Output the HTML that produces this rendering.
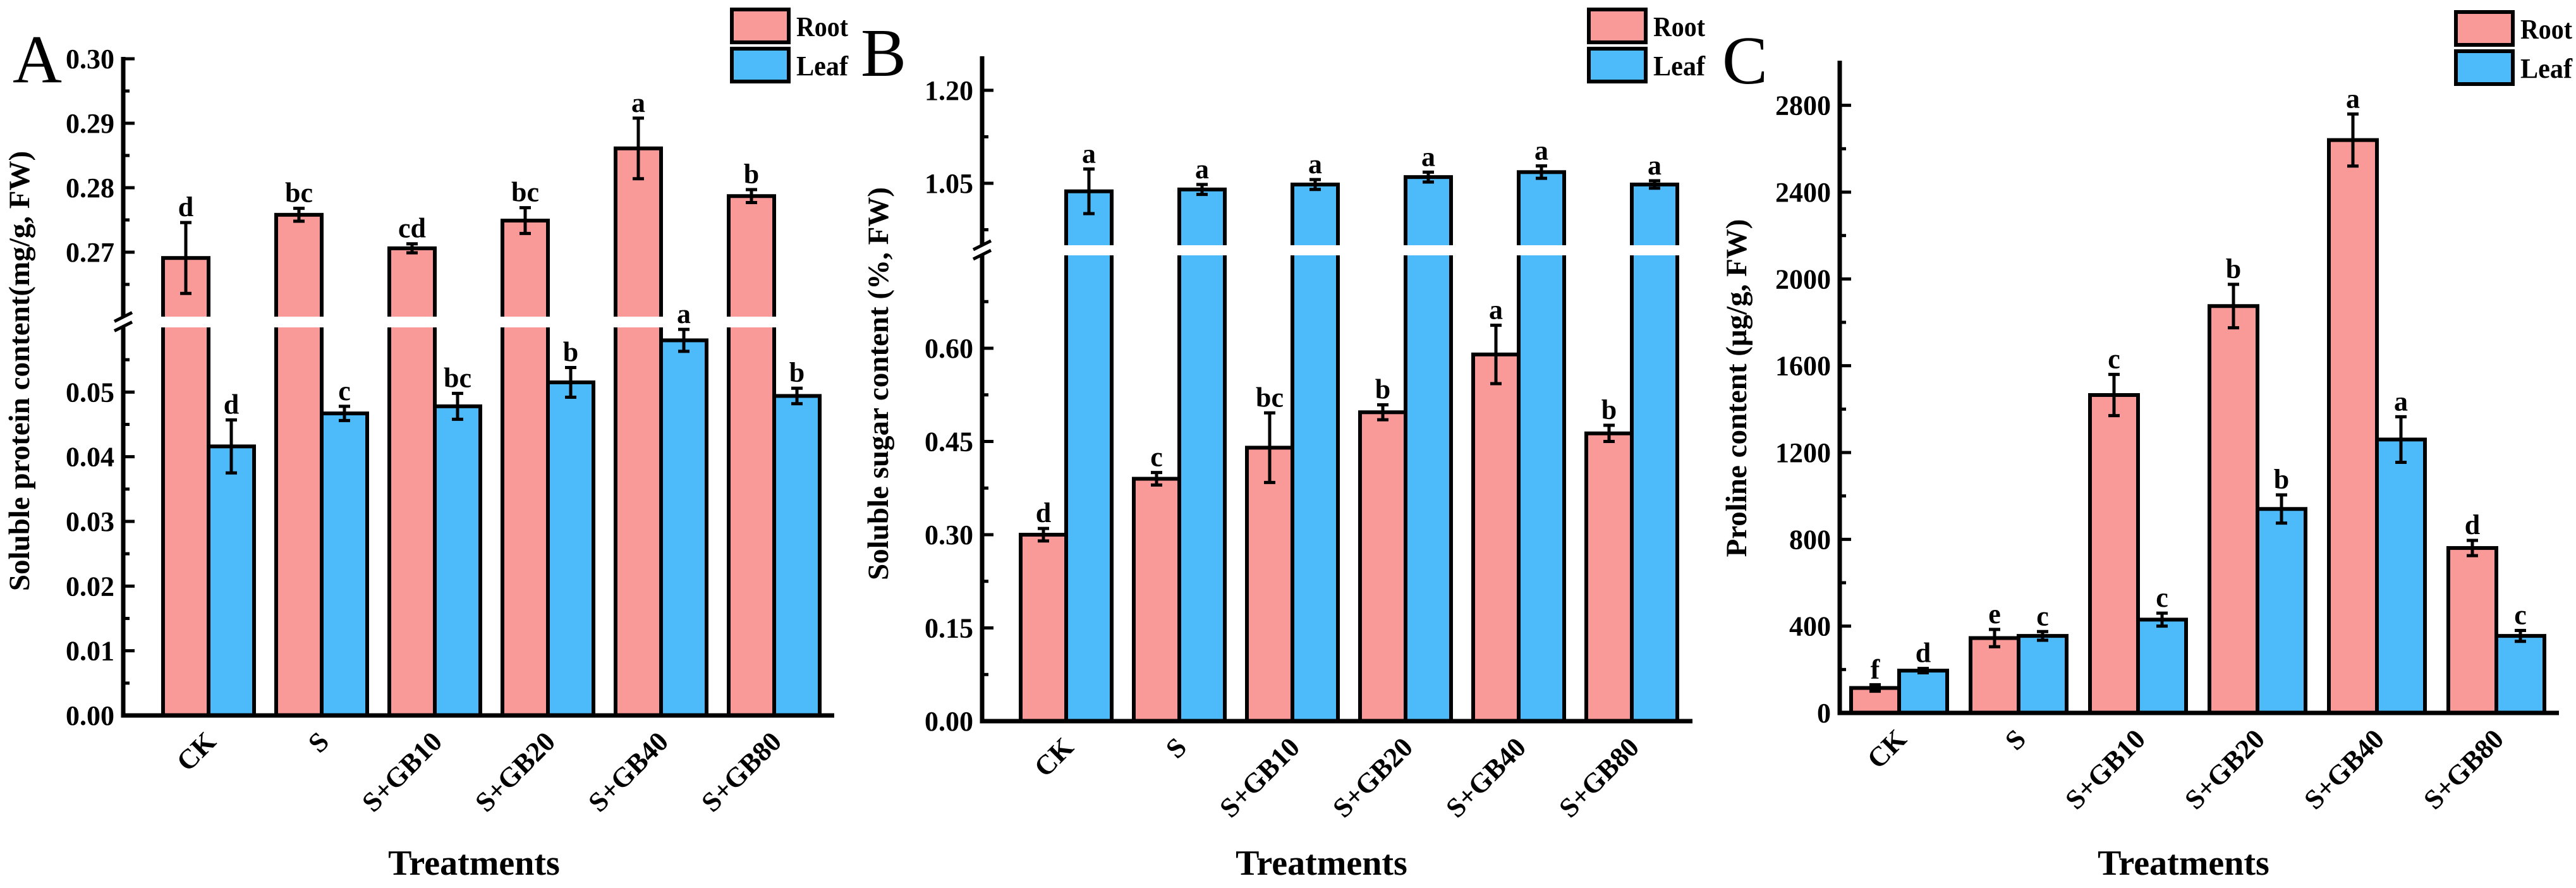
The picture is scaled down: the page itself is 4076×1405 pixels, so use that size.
<!DOCTYPE html>
<html><head><meta charset="utf-8">
<style>
html,body{margin:0;padding:0;background:#fff;}
svg{display:block;}
svg text{font-family:"Liberation Serif","DejaVu Serif Condensed","DejaVu Serif",serif;fill:#000;}
</style></head>
<body>
<svg id="fig" width="4076" height="1405" viewBox="0 0 4076 1405" xmlns="http://www.w3.org/2000/svg"></svg>
<script>
const categories = ["CK","S","S+GB10","S+GB20","S+GB40","S+GB80"];
// Panel A: soluble protein
const protRoot = [0.2691,0.2758,0.2706,0.2749,0.2861,0.2787];
const protRootErr = [0.0055,0.0010,0.0007,0.0020,0.0047,0.0010];
const protLeaf = [0.0416,0.0467,0.0478,0.0515,0.0580,0.0494];
const protLeafErr = [0.0041,0.0011,0.0020,0.0023,0.0017,0.0012];
const protRootSig = ["d","bc","cd","bc","a","b"];
const protLeafSig = ["d","c","bc","b","a","b"];
const protTicks = ["0.00","0.01","0.02","0.03","0.04","0.05","0.27","0.28","0.29","0.30"];
// Panel B: soluble sugar
const sugRoot = [0.300,0.390,0.440,0.497,0.590,0.463];
const sugRootErr = [0.010,0.010,0.056,0.012,0.047,0.013];
const sugLeaf = [1.037,1.040,1.048,1.060,1.068,1.048];
const sugLeafErr = [0.036,0.008,0.008,0.008,0.010,0.006];
const sugRootSig = ["d","c","bc","b","a","b"];
const sugLeafSig = ["a","a","a","a","a","a"];
const sugTicks = ["0.00","0.15","0.30","0.45","0.60","1.05","1.20"];
// Panel C: proline
const proRoot = [115,345,1465,1875,2640,760];
const proRootErr = [15,40,95,100,120,35];
const proLeaf = [195,355,430,940,1260,355];
const proLeafErr = [10,20,30,65,105,25];
const proRootSig = ["f","e","c","b","a","d"];
const proLeafSig = ["d","c","c","b","a","c"];
const proTicks = ["0","400","800","1200","1600","2000","2400","2800"];

const NS="http://www.w3.org/2000/svg";
const svg=document.getElementById('fig');
function mk(tag,attrs,parent){const e=document.createElementNS(NS,tag);for(const k in attrs)e.setAttribute(k,attrs[k]);(parent||svg).appendChild(e);return e;}
function makeScale(segs){
  return v=>{for(const s of segs){if(v>=s[0]-1e-9&&v<=s[1]+1e-9)return s[2]+(v-s[0])/(s[1]-s[0])*(s[3]-s[2]);}
    const s=v<segs[0][0]?segs[0]:segs[segs.length-1];return s[2]+(v-s[0])/(s[1]-s[0])*(s[3]-s[2]);};
}
const ROOT="#F99A98", LEAF="#4DBBFA";

function panel(p){
  const g=mk('g',{});
  
  
  const y=makeScale(p.segs);
  const x0=p.axisX, base=p.base;
  const labels=[];
  for(let i=0;i<categories.length;i++){
    const c=p.c0+i*p.step;
    [[p.root,p.rootErr,p.rootSig,c-p.bw,ROOT,'root'],[p.leaf,p.leafErr,p.leafSig,c,LEAF,'leaf']].forEach(s=>{
      const v=s[0][i], e=s[1][i], xl=s[3];
      const yt=y(v);
      const r=mk('rect',{x:xl,y:yt,width:p.bw,height:base-yt,fill:s[4],stroke:'#000','stroke-width':6},g);
      
      
      const cx=xl+p.bw/2, ye1=y(v+e), ye0=y(v-e);
      const eb=mk('path',{d:`M${cx},${ye1}V${ye0}M${cx-9},${ye1}H${cx+9}M${cx-9},${ye0}H${cx+9}`,stroke:'#000','stroke-width':5,fill:'none'},g);
      
      
      labels.push([cx,ye1-10,s[2][i]]);
    });
  }
  if(p.gap){
    const w=mk('rect',{x:x0+4,y:p.gap[0],width:p.axisEnd-x0,height:p.gap[1]-p.gap[0],fill:'#fff'},g);
    
    
  }
  labels.forEach(l=>{
    const t=mk('text',{x:l[0],y:l[1],'text-anchor':'middle','font-size':44,'font-weight':'bold'},g);
    t.textContent=l[2];
    
    
  });
  const ax=mk('path',{d:p.gap?`M${x0},${p.top}V${p.gap[0]}M${x0},${p.gap[1]}V${base}H${p.axisEnd}`:`M${x0},${p.top}V${base}H${p.axisEnd}`,stroke:'#000','stroke-width':7,fill:'none'},g);
  
  
  if(p.gap){
    const m=(p.gap[0]+p.gap[1])/2;
    const br=mk('path',{d:`M${x0-14},${m-1}L${x0+14},${m-15}M${x0-14},${m+14}L${x0+14},${m}`,stroke:'#000','stroke-width':5},g);
    
    
  }
  p.tickVals.forEach((v,k)=>{
    const yy=y(v);
    mk('line',{x1:x0,x2:x0+18,y1:yy,y2:yy,stroke:'#000','stroke-width':5},g);
    const t=mk('text',{x:x0-14,y:yy+15,'text-anchor':'end','font-size':44,'font-weight':'bold'},g);
    t.textContent=p.ticks[k];
    
    
  });
  p.minor.forEach(v=>{const yy=y(v);mk('line',{x1:x0,x2:x0+10,y1:yy,y2:yy,stroke:'#000','stroke-width':5},g);});
  categories.forEach((c,i)=>{
    const cx=p.c0+i*p.step;
    mk('line',{x1:cx,x2:cx,y1:base,y2:base-14,stroke:'#000','stroke-width':5},g);
    const t=mk('text',{x:cx+14,y:base+44,'text-anchor':'end','font-size':44,'font-weight':'bold',transform:`rotate(-45 ${cx+14} ${base+44})`},g);
    t.textContent=c;
    
    
  });
  const xt=mk('text',{x:p.xTitleX,y:1384,'text-anchor':'middle','font-size':56,'font-weight':'bold'},g);
  xt.textContent='Treatments';
  
  
  const yt=mk('text',{x:0,y:0,'text-anchor':'middle','font-size':47,'font-weight':'bold',transform:`translate(${p.yTitleX},${p.yTitleY}) rotate(-90)`},g);
  yt.textContent=p.yTitle;
  
  
  const pl=mk('text',{x:p.letter[0],y:p.letter[1],'font-size':108},g);
  pl.textContent=p.letter[2];
  
  
  const lg=mk('g',{},g);
  
  
  [['Root',ROOT,0],['Leaf',LEAF,1]].forEach(l=>{
    const yy=p.leg[1]+l[2]*62;
    mk('rect',{x:p.leg[0],y:yy,width:90,height:52,fill:l[1],stroke:'#000','stroke-width':6},lg);
    const t=mk('text',{x:p.leg[0]+102,y:yy+42,'font-size':44,'font-weight':'bold',textLength:82,lengthAdjust:'spacingAndGlyphs'},lg);
    t.textContent=l[0];
    
    
  });
}

panel({name:'panel-a-soluble-protein',segs:[[0,0.06,1132,518],[0.26,0.30,501,93]],gap:[501,518],
  axisX:195,axisEnd:1320,base:1132,top:90,c0:330,step:179,bw:72,
  root:protRoot,rootErr:protRootErr,rootSig:protRootSig,leaf:protLeaf,leafErr:protLeafErr,leafSig:protLeafSig,
  tickVals:[0,0.01,0.02,0.03,0.04,0.05,0.27,0.28,0.29,0.30],ticks:protTicks,
  minor:[0.005,0.015,0.025,0.035,0.045,0.055,0.265,0.275,0.285,0.295],
  xTitleX:750,yTitleX:46,yTitleY:587,yTitle:'Soluble protein  content(mg/g, FW)',letter:[20,130,'A'],leg:[1158,15]});

panel({name:'panel-b-soluble-sugar',segs:[[0,0.75,1141,403.5],[0.95,1.255,388,89]],gap:[388,404],
  axisX:1554,axisEnd:2678,base:1141,top:89,c0:1687,step:179,bw:72,
  root:sugRoot,rootErr:sugRootErr,rootSig:sugRootSig,leaf:sugLeaf,leafErr:sugLeafErr,leafSig:sugLeafSig,
  tickVals:[0,0.15,0.30,0.45,0.60,1.05,1.20],ticks:sugTicks,
  minor:[0.075,0.225,0.375,0.525,0.675,0.975,1.125],
  xTitleX:2091,yTitleX:1405,yTitleY:607,yTitle:'Soluble sugar content (%, FW)',letter:[1362,120,'B'],leg:[2514,15]});

panel({name:'panel-c-proline',segs:[[0,3000,1128,98]],gap:null,
  axisX:2911,axisEnd:4049,base:1128,top:96,c0:3005,step:189,bw:76,
  root:proRoot,rootErr:proRootErr,rootSig:proRootSig,leaf:proLeaf,leafErr:proLeafErr,leafSig:proLeafSig,
  tickVals:[0,400,800,1200,1600,2000,2400,2800],ticks:proTicks,
  minor:[200,600,1000,1400,1800,2200,2600],
  xTitleX:3455,yTitleX:2763,yTitleY:614,yTitle:'Proline content (μg/g, FW)',letter:[2725,132,'C'],leg:[3886,19]});
</script>
</body></html>
